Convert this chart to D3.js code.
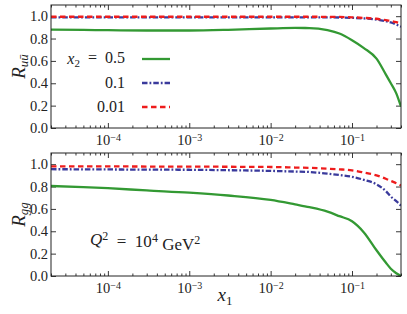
<!DOCTYPE html>
<html>
<head>
<meta charset="utf-8">
<script src="https://cdn.jsdelivr.net/npm/d3@7"></script>
<style>
  body { margin: 0; background: #fff; }
</style>
</head>
<body>
<div id="chart"></div>
<script>
// x1 sample points shared by all curves
var x1 = [2e-5, 5e-5, 1e-4, 3e-4, 1e-3, 3e-3, 1e-2, 2e-2, 3e-2, 5e-2, 7e-2, 0.1, 0.14, 0.2, 0.26, 0.3, 0.35, 0.4];

// R_uubar (top panel)
var uuX05  = [0.880, 0.877, 0.875, 0.872, 0.872, 0.878, 0.890, 0.895, 0.894, 0.875, 0.845, 0.785, 0.715, 0.620, 0.480, 0.400, 0.310, 0.190];
var uuX01  = [0.990, 0.990, 0.990, 0.990, 0.990, 0.990, 0.990, 0.990, 0.990, 0.989, 0.988, 0.985, 0.980, 0.970, 0.955, 0.945, 0.925, 0.905];
var uuX001 = [0.995, 0.995, 0.995, 0.995, 0.995, 0.995, 0.995, 0.995, 0.995, 0.994, 0.993, 0.990, 0.985, 0.977, 0.965, 0.958, 0.947, 0.935];

// R_gg (bottom panel)
var ggX05  = [0.805, 0.795, 0.785, 0.765, 0.745, 0.720, 0.680, 0.640, 0.615, 0.575, 0.535, 0.490, 0.390, 0.230, 0.120, 0.065, 0.025, 0.000];
var ggX01  = [0.955, 0.954, 0.953, 0.951, 0.950, 0.946, 0.940, 0.934, 0.930, 0.915, 0.903, 0.887, 0.860, 0.820, 0.760, 0.710, 0.670, 0.630];
var ggX001 = [0.980, 0.980, 0.980, 0.979, 0.978, 0.977, 0.975, 0.970, 0.967, 0.960, 0.954, 0.945, 0.925, 0.900, 0.870, 0.850, 0.830, 0.810];

var yTicks = [0, 0.2, 0.4, 0.6, 0.8, 1.0];
var xTicks = [1e-4, 1e-3, 1e-2, 1e-1];
var legendLabels = ["0.5", "0.1", "0.01"];

var width = 407, height = 314;
var left = 51, right = 401;
var FONT = "'Liberation Serif', 'DejaVu Serif', serif";
var panels = [
  {top: 5, bottom: 128, series: [uuX05, uuX01, uuX001], ylab: "uu"},
  {top: 153, bottom: 276, series: [ggX05, ggX01, ggX001], ylab: "gg"}
];

var styles = [
  {color: "#339933", dash: null, w: 2.3},
  {color: "#3a3a9c", dash: "5.5,2,1.8,2", w: 2.3},
  {color: "#ee1c1c", dash: "5.5,3.5", w: 2.3}
];

var svg = d3.select("#chart").append("svg")
    .attr("width", width)
    .attr("height", height)
    .attr("font-family", FONT);

var xScale = d3.scaleLog()
    .domain([2e-5, 0.4])
    .range([left, right]);

var minorTicks = xScale.ticks().filter(d => Math.abs(Math.log10(d) - Math.round(Math.log10(d))) > 1e-6);

function powLabel(sel) {
  sel.each(function(d) {
    var t = d3.select(this);
    t.text(null);
    t.append("tspan").text("10");
    t.append("tspan").attr("dy", "-0.42em").style("font-size", "10px")
      .text("\u2212" + Math.abs(Math.round(Math.log10(d))));
  });
}

panels.forEach(function(p) {
  var yScale = d3.scaleLinear().domain([0, 1.1]).range([p.bottom, p.top]);
  var g = svg.append("g");

  // bottom axis, major + minor
  var xb = g.append("g").attr("transform", `translate(0,${p.bottom})`)
      .call(d3.axisBottom(xScale).tickValues(xTicks).tickSizeInner(-5).tickSizeOuter(0).tickPadding(7).tickFormat(""));
  xb.selectAll(".tick text").call(powLabel);
  g.append("g").attr("transform", `translate(0,${p.bottom})`)
      .call(d3.axisBottom(xScale).tickValues(minorTicks).tickSizeInner(-2.5).tickSizeOuter(0).tickFormat(""));
  // top axis
  g.append("g").attr("transform", `translate(0,${p.top})`)
      .call(d3.axisTop(xScale).tickValues(xTicks).tickSizeInner(-5).tickSizeOuter(0).tickFormat(""));
  g.append("g").attr("transform", `translate(0,${p.top})`)
      .call(d3.axisTop(xScale).tickValues(minorTicks).tickSizeInner(-2.5).tickSizeOuter(0).tickFormat(""));
  // left / right axes
  g.append("g").attr("transform", `translate(${left},0)`)
      .call(d3.axisLeft(yScale).tickValues(yTicks).tickSizeInner(-5).tickSizeOuter(0).tickPadding(3).tickFormat(d3.format(".1f")));
  g.append("g").attr("transform", `translate(${right},0)`)
      .call(d3.axisRight(yScale).tickValues(yTicks).tickSizeInner(-5).tickSizeOuter(0).tickFormat(""));

  g.selectAll("g").attr("font-family", FONT).attr("font-size", null);
  g.selectAll(".domain").remove();
  g.selectAll(".tick line").attr("stroke", "#222").attr("stroke-width", 0.9);
  g.selectAll(".tick text").attr("fill", "#222").attr("font-family", FONT).style("font-size", "14.5px");

  // curves
  var clipId = "clip" + p.ylab;
  svg.append("clipPath").attr("id", clipId).append("rect")
      .attr("x", left).attr("y", p.top).attr("width", right - left).attr("height", p.bottom - p.top);
  var line = d3.line()
      .x((d, i) => xScale(x1[i]))
      .y(d => yScale(d))
      .curve(d3.curveMonotoneX);
  p.series.forEach(function(s, k) {
    g.append("path")
      .attr("clip-path", `url(#${clipId})`)
      .attr("d", line(s))
      .attr("fill", "none")
      .attr("stroke", styles[k].color)
      .attr("stroke-width", styles[k].w)
      .attr("stroke-dasharray", styles[k].dash);
  });

  // frame
  g.append("rect")
    .attr("x", left).attr("y", p.top)
    .attr("width", right - left).attr("height", p.bottom - p.top)
    .attr("fill", "none").attr("stroke", "#222").attr("stroke-width", 1);

  // y label
  var yl = svg.append("text")
    .attr("transform", `translate(25,${(p.top + p.bottom) / 2}) rotate(-90)`)
    .attr("text-anchor", "middle")
    .attr("fill", "#222")
    .style("font-size", "19px");
  yl.append("tspan").style("font-style", "italic").text("R");
  yl.append("tspan").attr("dy", "0.22em").style("font-size", "13px").style("font-style", "italic")
    .text(p.ylab === "uu" ? "u\u016B" : "gg");
});

// legend
var legY = [59, 83, 107];
legendLabels.forEach(function(lab, k) {
  var t = svg.append("text")
    .attr("x", 125).attr("y", legY[k] + 5)
    .attr("text-anchor", "end")
    .attr("fill", "#222")
    .style("font-size", "16px");
  if (k === 0) {
    t.append("tspan").style("font-style", "italic").text("x");
    t.append("tspan").attr("dy", "0.25em").style("font-size", "11px").text("2");
    t.append("tspan").attr("dy", "-0.25em").text("\u2002=\u2002" + lab);
  } else {
    t.text(lab);
  }
  svg.append("line")
    .attr("x1", 142).attr("x2", 170)
    .attr("y1", legY[k]).attr("y2", legY[k])
    .attr("stroke", styles[k].color)
    .attr("stroke-width", styles[k].w)
    .attr("stroke-dasharray", styles[k].dash);
});

// annotation
var q = svg.append("text").attr("x", 90).attr("y", 245).attr("fill", "#222").style("font-size", "17px");
q.append("tspan").style("font-style", "italic").text("Q");
q.append("tspan").attr("dy", "-0.45em").style("font-size", "12px").text("2");
q.append("tspan").attr("dy", "0.45em").text("\u2002=\u200210");
q.append("tspan").attr("dy", "-0.45em").style("font-size", "12px").text("4");
q.append("tspan").attr("dy", "0.45em").text(" GeV");
q.append("tspan").attr("dy", "-0.45em").style("font-size", "12px").text("2");

// x label
var xl = svg.append("text").attr("x", 225).attr("y", 301).attr("text-anchor", "middle").attr("fill", "#222").style("font-size", "19px");
xl.append("tspan").style("font-style", "italic").text("x");
xl.append("tspan").attr("dy", "0.3em").style("font-size", "13px").text("1");
</script>
</body>
</html>
